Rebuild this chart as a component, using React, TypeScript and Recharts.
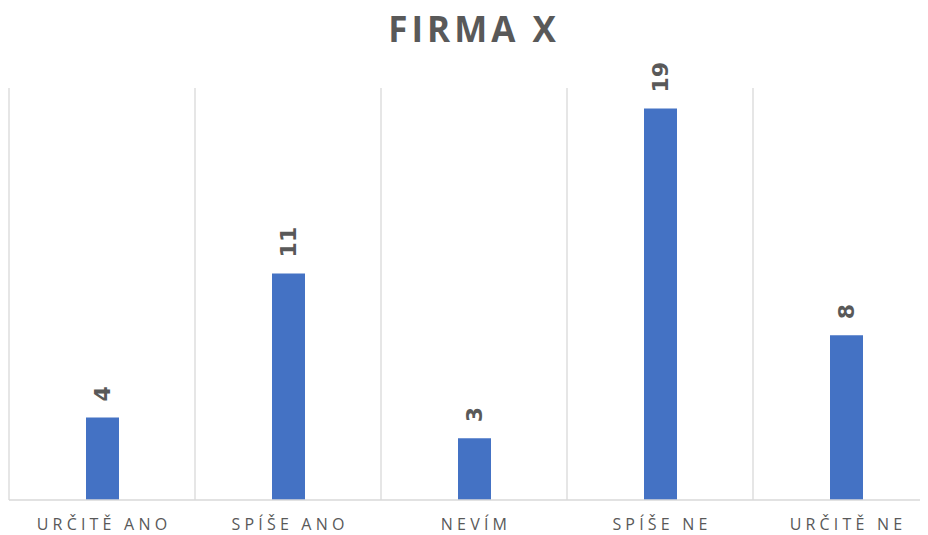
import React from "react";
import { BarChart, Bar, XAxis, YAxis, CartesianGrid, LabelList } from "recharts";

const categories = ["URČITĚ ANO", "SPÍŠE ANO", "NEVÍM", "SPÍŠE NE", "URČITĚ NE"];
const values = [4, 11, 3, 19, 8];
const title = "FIRMA X";

const data = categories.map((c, i) => ({ name: c, value: values[i] }));

const GRAY = "#595959";

const ValueLabel = (props: any) => {
  const { x, y, width, value } = props;
  const cx = Number(x) + Number(width) / 2;
  const ty = Number(y) - 16;
  return (
    <text
      x={cx}
      y={ty}
      transform={`rotate(-90 ${cx} ${ty})`}
      textAnchor="start"
      dominantBaseline="central"
      fill={GRAY}
      fontFamily="'DejaVu Sans', sans-serif"
      fontWeight={700}
      fontSize={22}
    >
      {value}
    </text>
  );
};

const CatTick = (props: any) => {
  const { x, y, payload } = props;
  return (
    <text
      x={x + 2}
      y={y + 22}
      textAnchor="middle"
      fill={GRAY}
      fontFamily="'Open Sans', sans-serif"
      fontSize={16}
      letterSpacing={4.2}
    >
      {payload.value}
    </text>
  );
};

const gridGen = ({ offset }: any) =>
  categories.map((_, i) => offset.left + (offset.width * i) / categories.length).concat(offset.left + offset.width);

export default function App() {
  return (
    <div style={{ width: 920, height: 527, position: "relative", background: "#fff" }}>
      <div style={{ width: 920, height: 527, overflow: "hidden", position: "absolute", left: 0, top: 0 }}>
        <BarChart width={935} height={527} data={data} margin={{ top: 80, right: 4, bottom: 0, left: 1 }}>
          <CartesianGrid
            horizontal={false}
            vertical
            verticalCoordinatesGenerator={gridGen}
            stroke="#d9d9d9"
            strokeWidth={1.3}
          />
          <XAxis
            dataKey="name"
            height={35}
            axisLine={{ stroke: "#d9d9d9", strokeWidth: 1.5 }}
            tickLine={false}
            tick={<CatTick />}
            interval={0}
          />
          <YAxis domain={[0, 20]} hide />
          <Bar dataKey="value" fill="#4472C4" barSize={33} isAnimationActive={false}>
            <LabelList dataKey="value" content={<ValueLabel />} />
          </Bar>
        </BarChart>
      </div>
      <div
        style={{
          position: "absolute",
          left: 0,
          width: 920,
          paddingLeft: 12,
          boxSizing: "border-box",
          top: -3,
          textAlign: "center",
          fontFamily: "'Open Sans', sans-serif",
          fontWeight: 700,
          fontSize: 35,
          letterSpacing: 4,
          color: GRAY,
          lineHeight: "48px",
        }}
      >
        {title}
      </div>
    </div>
  );
}
